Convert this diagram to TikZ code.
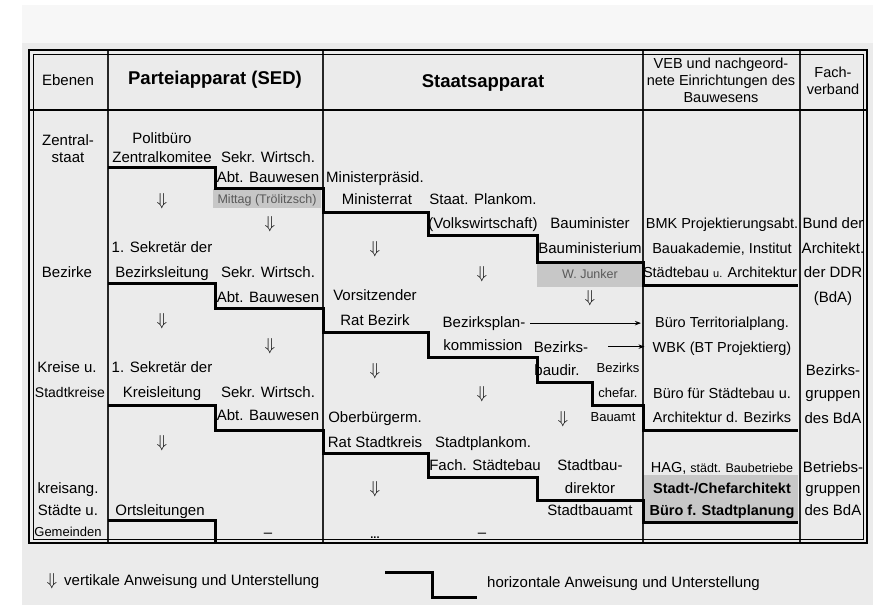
\documentclass[tikz,border=0pt]{standalone}
\usepackage{fontspec}
\setmainfont{Liberation Sans}
\usetikzlibrary{arrows.meta}

\begin{document}
\begin{tikzpicture}[x=1pt,y=-1pt,
  txt/.style={font=\fontsize{15}{18}\selectfont,inner sep=0pt,anchor=base},
  small/.style={txt,font=\fontsize{13}{15}\selectfont},
  veb/.style={txt,font=\fontsize{14.5}{17}\selectfont},
  head/.style={txt,font=\fontsize{18.5}{22}\selectfont\bfseries},
  down/.style={txt,font=\fontsize{19}{22}\selectfont},
  grid/.style={line width=1.1pt,draw=black!85},
  stair/.style={line width=3pt,draw=black,line join=miter},
  greybox/.style={fill=black!22,draw=none},
  note/.style={txt,anchor=base west}]
\useasboundingbox (0,0) rectangle (879,613);
% background
\fill[black!3] (22,5) rectangle (873,43);
\fill[black!8] (22,43) rectangle (873,605);
% grey boxes
\fill[greybox] (213,189) rectangle (321,208);
\fill[greybox] (537,263) rectangle (642,287);
\fill[greybox] (644,475) rectangle (798,521);
% columns and header line
\foreach \x in {108,323,643,800}
  \draw[grid] (\x,50) -- (\x,543);
\draw[line width=2pt] (29,110) -- (867,110);
% horizontal Anweisung und Unterstellung
\draw[stair] (108,167) -- (215,167) -- (215,188) -- (323,188) -- (323,212) -- (428,212)
  -- (428,235) -- (537,235) -- (537,262) -- (643,262) -- (643,285) -- (798,285);
\draw[stair] (108,283) -- (215,283) -- (215,308) -- (323,308) -- (323,332) -- (428,332)
  -- (428,357) -- (537,357) -- (537,382) -- (592,382) -- (592,405) -- (643,405)
  -- (643,430) -- (798,430);
\draw[stair] (108,405) -- (215,405) -- (215,430) -- (323,430) -- (323,453) -- (428,453)
  -- (428,477) -- (537,477) -- (537,500) -- (643,500) -- (643,522) -- (798,522);
\draw[stair] (108,520) -- (215,520) -- (215,543);
% border
\draw[line width=2.5pt] (29,50) rectangle (867,543);
\draw[line width=0.6pt] (33,54) rectangle (863,539);

% header
\node[txt] (ebenen) at (68,85) {Ebenen};
\node[head] (partei) at (215,84) {Parteiapparat (SED)};
\node[head] (staat) at (483,87) {Staatsapparat};
\node[veb] (veba) at (721,68) {VEB und nachgeord-};
\node[veb] (vebb) at (721,85) {nete Einrichtungen des};
\node[veb] (vebc) at (721,102) {Bauwesens};
\node[veb] (facha) at (833,77) {Fach-};
\node[veb] (fachb) at (833,94) {verband};

% Ebenen
\node[txt] (zentral) at (68,145) {Zentral-};
\node[txt] (zstaat) at (68,162) {staat};
\node[txt] (bezirke) at (67,277) {Bezirke};
\node[txt] (kreise) at (67,372) {Kreise u.};
\node[txt,font=\fontsize{14}{16}\selectfont] (stadtkr) at (70,397) {Stadtkreise};
\node[txt] (kreisang) at (68,493) {kreisang.};
\node[txt] (staedte) at (68,515) {Städte u.};
\node[small] (gemeinden) at (68,536.5) {Gemeinden};

% Parteiapparat
\node[txt] (politb) at (162,143) {Politbüro};
\node[txt] (zk) at (162,162) {Zentralkomitee};
\node[txt] (sekra) at (268,162) {Sekr. Wirtsch.};
\node[txt] (abta) at (268,182) {Abt. Bauwesen};
\node[down] (pda) at (162,205) {$\Downarrow$};
\node[txt,font=\fontsize{12.5}{15}\selectfont,text=black!65] (mittag) at (267,203.5) {Mittag (Trölitzsch)};
\node[down] (pdb) at (270,228) {$\Downarrow$};
\node[txt] (sekb) at (162,252) {1. Sekretär der};
\node[txt] (bzleit) at (162,277) {Bezirksleitung};
\node[txt] (sekrb) at (268,277) {Sekr. Wirtsch.};
\node[txt] (abtb) at (268,302) {Abt. Bauwesen};
\node[down] (pdc) at (162,325) {$\Downarrow$};
\node[down] (pdd) at (270,350) {$\Downarrow$};
\node[txt] (sekc) at (162,372) {1. Sekretär der};
\node[txt] (krleit) at (162,397) {Kreisleitung};
\node[txt] (sekrc) at (268,397) {Sekr. Wirtsch.};
\node[txt] (abtc) at (268,420) {Abt. Bauwesen};
\node[down] (pde) at (162,447) {$\Downarrow$};
\node[txt] (orts) at (160,515) {Ortsleitungen};
\node[txt] (pnone) at (268,537) {--};

% Staatsapparat
\node[txt] (mpraes) at (375,182) {Ministerpräsid.};
\node[txt] (mrat) at (377,204) {Ministerrat};
\node[txt] (splana) at (483,204) {Staat. Plankom.};
\node[txt] (splanb) at (483,228) {(Volkswirtschaft)};
\node[txt] (bmin) at (590,228) {Bauminister};
\node[down] (sda) at (375,253) {$\Downarrow$};
\node[txt] (bmium) at (590,253) {Bauministerium};
\node[down] (sdb) at (482,278) {$\Downarrow$};
\node[txt,font=\fontsize{12.5}{15}\selectfont,text=black!65] (junker) at (590,278.5) {W. Junker};
\node[txt] (vors) at (375,300) {Vorsitzender};
\node[down] (sdc) at (590,302) {$\Downarrow$};
\node[txt] (ratbz) at (375,325) {Rat Bezirk};
\node[txt] (bzplan) at (484,327) {Bezirksplan-};
\node[txt] (komm) at (483,350) {kommission};
\node[txt] (bzbau) at (561,352) {Bezirks-};
\node[down] (sdd) at (375,375) {$\Downarrow$};
\node[txt] (baudir) at (557,375) {baudir.};
\node[small] (bzchef) at (618,372.5) {Bezirks};
\node[down] (sde) at (482,398) {$\Downarrow$};
\node[small] (chefar) at (618,397.5) {chefar.};
\node[txt] (obm) at (375,422) {Oberbürgerm.};
\node[down] (sdf) at (563,423) {$\Downarrow$};
\node[small] (bauamt) at (613,421.5) {Bauamt};
\node[txt] (ratsk) at (375,447) {Rat Stadtkreis};
\node[txt] (stplan) at (483,447) {Stadtplankom.};
\node[txt] (fachst) at (485,470) {Fach. Städtebau};
\node[txt] (stbau) at (590,470) {Stadtbau-};
\node[down] (sdg) at (375,493) {$\Downarrow$};
\node[txt] (direktor) at (590,493) {direktor};
\node[txt] (stbamt) at (590,515) {Stadtbauamt};
\node[txt,font=\fontsize{11}{12}\selectfont\bfseries] (sdots) at (375,538) {...};
\node[txt] (snone) at (482,537) {--};

% VEB
\node[veb] (bmk) at (722,228) {BMK Projektierungsabt.};
\node[veb] (bauak) at (722,253) {Bauakademie, Institut};
\node[veb] (stb) at (720,277) {Städtebau {\fontsize{11}{13}\selectfont u.} Architektur};
\node[veb] (terr) at (722,327) {Büro Territorialplang.};
\node[veb] (wbk) at (722,352) {WBK (BT Projektierg)};
\node[veb] (bfs) at (722,398) {Büro für Städtebau u.};
\node[veb] (archbz) at (722,422) {Architektur d. Bezirks};
\node[veb] (hag) at (722,472) {HAG, {\fontsize{12.5}{15}\selectfont städt. Baubetriebe}};
\node[veb,font=\fontsize{14.5}{17}\selectfont\bfseries] (chefarch) at (722,493) {Stadt-/Chefarchitekt};
\node[veb,font=\fontsize{14.5}{17}\selectfont\bfseries] (bfst) at (722,515) {Büro f. Stadtplanung};

% Fachverband
\node[txt] (bund) at (833,228) {Bund der};
\node[txt] (archt) at (833,253) {Architekt.};
\node[txt] (ddr) at (833,277) {der DDR};
\node[txt] (bda) at (833,302) {(BdA)};
\node[txt] (bzgr) at (833,375) {Bezirks-};
\node[txt] (grpa) at (833,398) {gruppen};
\node[txt] (bdaa) at (833,423) {des BdA};
\node[txt] (betr) at (833,472) {Betriebs-};
\node[txt] (grpb) at (833,493) {gruppen};
\node[txt] (bdab) at (833,515) {des BdA};

% Pfeile
\draw[-{Stealth[length=6pt,width=4.5pt]},line width=1pt,shorten <=5pt,shorten >=14pt]
  (bzplan.east) -- (bzplan.east -| terr.west);
\draw[-{Stealth[length=6pt,width=4.5pt]},line width=1pt,shorten <=20pt,shorten >=8pt]
  (bzbau.east) -- (bzbau.east -| wbk.west);

% Legende
\node[down] (legdown) at (52,585) {$\Downarrow$};
\node[note] (legv) at (64,585) {vertikale Anweisung und Unterstellung};
\draw[stair] (385,572) -- (432,572) -- (432,597) -- (477,597);
\node[note] (legh) at (487,587) {horizontale Anweisung und Unterstellung};
\end{tikzpicture}
\end{document}
